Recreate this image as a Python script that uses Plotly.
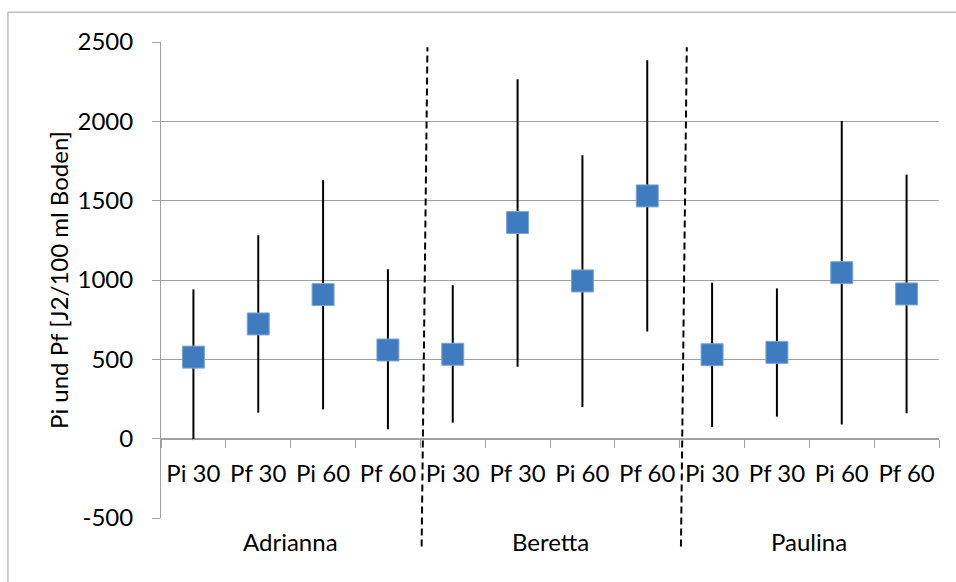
import plotly.graph_objects as go

# Cultivars (groups) and measurement labels within each group
groups = ["Adrianna", "Beretta", "Paulina"]
sub_labels = ["Pi 30", "Pf 30", "Pi 60", "Pf 60"]

# Mean values and the lower / upper ends of the range bars, per category
means = [514, 723, 908, 559, 532, 1362, 994, 1530, 529, 544, 1046, 912]
upper = [941, 1282, 1629, 1068, 967, 2265, 1786, 2385, 983, 947, 2002, 1664]
lower = [-9, 164, 185, 59, 101, 454, 200, 675, 73, 139, 90, 160]

y_ticks = [-500, 0, 500, 1000, 1500, 2000, 2500]
y_tick_labels = ["-500", "0", "500", "1000", "1500", "2000", "2500"]

categories = [s for g in groups for s in sub_labels]
xpos = list(range(len(categories)))
err_plus = [u - m for u, m in zip(upper, means)]
err_minus = [m - l for m, l in zip(means, lower)]

FONT = "Lato"
GREY = "#A0A0A0"
ymin, ymax = y_ticks[0], y_ticks[-1]

fig = go.Figure()
fig.add_trace(go.Scatter(
    x=xpos, y=means, mode="markers",
    marker=dict(symbol="square", size=22, color="#3F7CBF",
                line=dict(color="#7DA5D5", width=1)),
    error_y=dict(type="data", symmetric=False, array=err_plus,
                 arrayminus=err_minus, color="black", thickness=2, width=0),
    showlegend=False,
))

n_sub = len(sub_labels)
shapes = []
# dashed separators between the cultivar groups
for gi in range(1, len(groups)):
    b = gi * n_sub - 0.5
    shapes.append(dict(type="line", xref="x", yref="paper",
                       x0=b + 0.02, y0=-0.06, x1=b + 0.11, y1=0.989,
                       line=dict(color="black", width=2, dash="7px,4px")))
# chart area frame
shapes.append(dict(type="rect", xref="paper", yref="paper",
                   x0=-0.1967, y0=-0.4, x1=1.3, y1=1.0626,
                   line=dict(color=GREY, width=1), layer="below"))

# group names under the category labels
annotations = []
for gi, g in enumerate(groups):
    centre = sum(xpos[gi * n_sub:(gi + 1) * n_sub]) / n_sub
    annotations.append(dict(x=centre, y=-0.05, xref="x", yref="paper", text=g,
                            showarrow=False, xanchor="center", yanchor="middle",
                            font=dict(family=FONT, size=24, color="black")))

fig.update_layout(
    width=956, height=582,
    margin=dict(l=161, r=17, t=42, b=64),
    paper_bgcolor="white", plot_bgcolor="white",
    font=dict(family=FONT, size=24, color="black"),
    shapes=shapes, annotations=annotations,
    xaxis=dict(
        range=[-0.5, len(categories) - 0.5],
        tickmode="array", tickvals=xpos, ticktext=categories,
        ticks="", showgrid=False, zeroline=False,
        showline=True, linecolor=GREY, linewidth=1,
        anchor="free", position=(0 - ymin) / (ymax - ymin),
        tickfont=dict(family=FONT, size=24, color="black"),
        ticklabelstandoff=14,
        minor=dict(tickmode="linear", tick0=-0.5, dtick=1, ticks="outside",
                   ticklen=8, tickcolor=GREY, tickwidth=1, showgrid=False),
    ),
    yaxis=dict(
        range=[ymin, ymax], tickmode="array", tickvals=y_ticks,
        ticktext=y_tick_labels,
        showgrid=True, gridcolor=GREY, gridwidth=1, zeroline=False,
        showline=True, linecolor=GREY, linewidth=1,
        ticks="outside", ticklen=8, tickcolor=GREY,
        tickfont=dict(family=FONT, size=24, color="black"),
        ticklabelstandoff=14,
        title=dict(text="Pi und Pf [J2/100 ml Boden]", standoff=2,
                   font=dict(family=FONT, size=24, color="black")),
    ),
)

fig.write_html("out.html")
